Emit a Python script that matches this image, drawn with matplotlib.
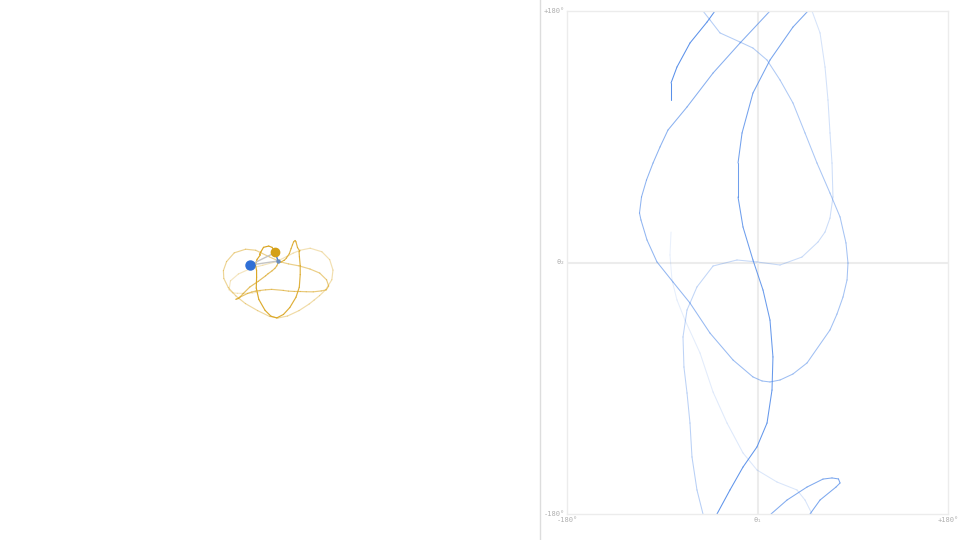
import numpy as np
import matplotlib.pyplot as plt
from matplotlib.collections import LineCollection

# trajectoire (theta1, theta2) en degrés, du plus ancien au plus récent
theta1 = [-81.7, -82.7, -80.8, -76.1, -68.5, -54.3, -42.0, -28.8, -13.7, -0.5, 18.4, 37.3, 44.9, 51.5,
          51.5, 59.1, 63.8, 66.6, 68.5, 70.4, 71.3, 68.5, 63.8, 57.2, 42.0, 21.3, -0.5, -19.4, -42.0, -57.2,
          -66.6, -70.4, -69.5, -66.6, -63.8, -61.9, -57.2, -51.5,
          -51.5, -44.9, -35.4, -16.5, -4.3, 9.0, 21.3, 33.5, 44.9, 56.2, 68.5, 78.0, 83.6, 85.5, 84.6,
          80.8, 75.1, 68.5, 46.8, 33.5, 21.3, 11.8, 4.3, -4.3, -23.1, -44.9, -63.8, -79.8, -95.0,
          -104.4, -110.1, -111.5, -109.6, -104.9, -98.7, -92.1, -84.6, -66.6, -42.0, -16.5, 11.8,
          12.8, 27.9, 46.8, 61.9, 70.4, 76.5, 78.0, 74.2, 59.1, 49.6,
          47.7, 33.5, 11.8, -4.3, -14.6, -18.4, -18.4, -13.7, -4.3, 5.2, 11.8, 14.6, 13.7, 9.0, -0.5,
          -13.7, -26.0, -38.3,
          -40.2, -47.7, -63.8, -76.1, -81.7, -81.7]
theta2 = [21.8, 5.4, -12.5, -26.8, -41.2, -64.8, -92.7, -114.9, -136.3, -148.5, -157.1, -162.8, -170.0, -180,
          180, 164.3, 139.9, 116.3, 92.7, 71.2, 46.9, 31.8, 21.8, 14.7, 3.9, -1.8, 0.4, 1.8, -2.5, -17.5,
          -34.0, -53.3, -74.8, -93.4, -114.9, -139.2, -162.8, -180,
          180, 173.6, 164.3, 157.8, 153.5, 144.9, 130.6, 114.2, 92.7, 71.2, 49.7, 32.6, 14.0, -0.4, -12.5,
          -24.7, -36.9, -48.3, -71.9, -79.8, -84.1, -85.5, -84.8, -81.9, -69.8, -50.5, -29.0, -14.0, 0.4,
          16.1, 30.4, 35.4, 46.9, 59.0, 71.2, 82.7, 94.8, 111.3, 135.6, 157.1, 180,
          -180, -170.0, -160.7, -155.0, -154.2, -154.9, -157.8, -160.7, -170.0, -180,
          180, 168.5, 144.9, 121.3, 92.7, 71.2, 46.9, 25.4, 1.8, -19.7, -41.2, -67.6, -91.3, -114.9,
          -132.0, -146.4, -162.8, -180,
          180, 172.1, 157.1, 139.9, 128.5, 116.3]

L1 = 1.0
L2 = 1.0

t1 = np.array(theta1)
t2 = np.array(theta2)

# avancement le long de la trace -> transparence
saut = np.abs(np.diff(t2)) > 180
d = np.hypot(np.diff(t1), np.diff(t2))
d[saut] = 0
s = np.concatenate([[0], np.cumsum(d)])
s = s / s[-1]
alpha = 0.12 + 0.8 * 0.5 * (s[:-1] + s[1:])

fig = plt.figure(figsize=(9.6, 5.4), dpi=100)

# ---- pendule ----
ax = fig.add_axes([0, 0, 540 / 960, 1])
k = 28.5
ax.set_xlim(-278 / k, (540 - 278) / k)
ax.set_ylim(-(540 - 261) / k, 261 / k)
ax.axis('off')

r1 = np.radians(t1)
r2 = np.radians(t2)
x1 = L1 * np.sin(r1)
y1 = -L1 * np.cos(r1)
x2 = x1 + L2 * np.sin(r2)
y2 = y1 - L2 * np.cos(r2)

pts = np.column_stack([x2, y2])
segs = np.stack([pts[:-1], pts[1:]], axis=1)
cols = np.zeros((len(segs), 4))
cols[:, :3] = (0.855, 0.647, 0.125)
cols[:, 3] = np.clip(alpha + 0.1, 0, 1)
ax.add_collection(LineCollection(segs, colors=cols, linewidths=0.85, capstyle='round', joinstyle='round'))

ax.plot([0, x1[-1]], [0, y1[-1]], color='#c4c4c4', lw=1.0, zorder=3)
ax.plot([x1[-1], x2[-1]], [y1[-1], y2[-1]], color='#c4c4c4', lw=1.0, zorder=3)
ax.plot([0, x2[-1] * 0.6], [0, y2[-1] * 0.6], color='#4a7fd0', lw=1.0, zorder=3)
ax.plot(0, 0, 'o', color='#6b8fc0', ms=2.2, zorder=4)
ax.plot(x1[-1], y1[-1], 'o', color='#2f6fd6', ms=6.5, zorder=5)
ax.plot(x2[-1], y2[-1], 'o', color='#d4a017', ms=6.0, zorder=5)

# séparateur
fig.add_artist(plt.Line2D([540 / 960, 540 / 960], [0, 1], color='#dddddd', lw=1.0))

# ---- espace des phases ----
bx = fig.add_axes([567 / 960, 26 / 540, 381 / 960, 503 / 540])
bx.set_xlim(-180, 180)
bx.set_ylim(-180, 180)
bx.set_xticks([])
bx.set_yticks([])
for sp in bx.spines.values():
    sp.set_color('#ececec')
    sp.set_linewidth(1.0)
bx.axvline(0, color='#ececec', lw=1.5, zorder=0)
bx.axhline(0, color='#ececec', lw=1.5, zorder=0)

pp = np.column_stack([t1, t2])
segs2 = np.stack([pp[:-1], pp[1:]], axis=1)[~saut]
cols2 = np.zeros((len(segs2), 4))
cols2[:, :3] = (0.29, 0.525, 0.91)
cols2[:, 3] = alpha[~saut]
bx.add_collection(LineCollection(segs2, colors=cols2, linewidths=0.75, capstyle='round', joinstyle='round'))

style = dict(family='DejaVu Sans Mono', fontsize=5, color='#b0b0b0')
bx.text(-0.005, 1.0, '+180°', transform=bx.transAxes, ha='right', va='center', **style)
bx.text(-0.005, 0.5, 'θ₂', transform=bx.transAxes, ha='right', va='center', **style)
bx.text(-0.005, 0.0, '-180°', transform=bx.transAxes, ha='right', va='center', **style)
bx.text(0.0, -0.006, '-180°', transform=bx.transAxes, ha='center', va='top', **style)
bx.text(0.5, -0.006, 'θ₁', transform=bx.transAxes, ha='center', va='top', **style)
bx.text(1.0, -0.006, '+180°', transform=bx.transAxes, ha='center', va='top', **style)

fig.savefig('out.png', dpi=100)
plt.close()
